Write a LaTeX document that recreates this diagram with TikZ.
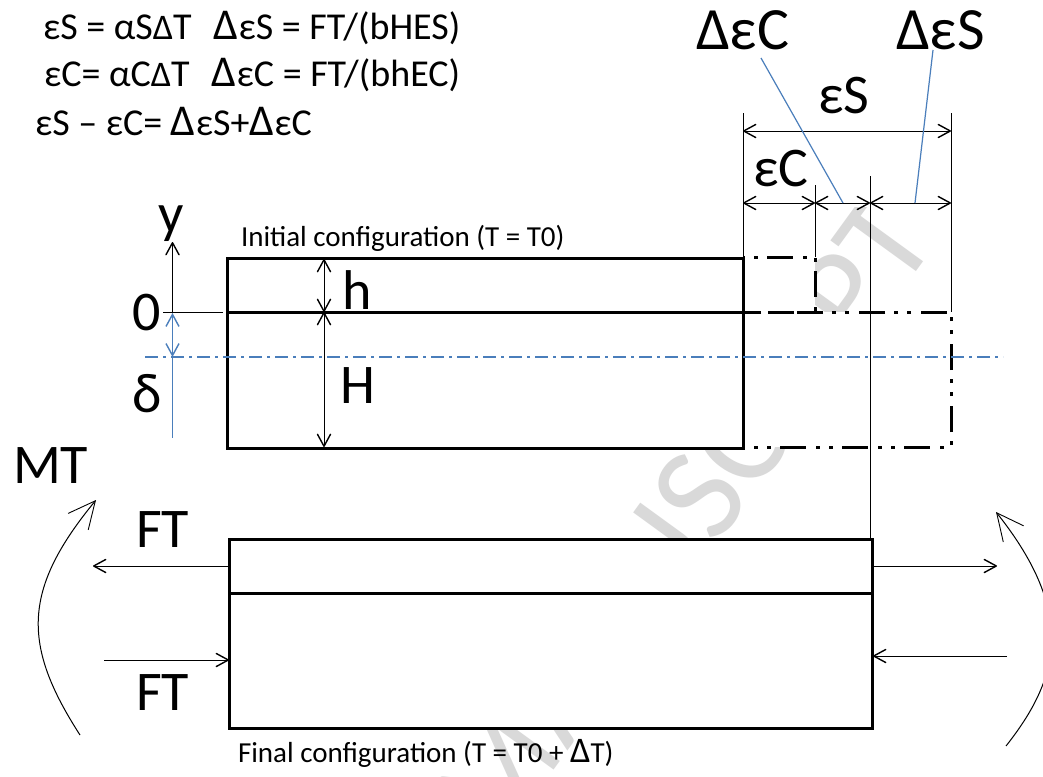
\documentclass[tikz,border=0pt]{standalone}
\usepackage{fontspec}
\setmainfont{Carlito}
\usetikzlibrary{arrows.meta}
\definecolor{leader}{HTML}{4A7EBB}
\definecolor{wmark}{HTML}{D9D9D9}
\newcommand{\fs}[1]{\fontsize{#1}{#1}\selectfont}
\newcommand{\bigD}{{\fs{44}Δ}}
\newcommand{\midD}{{\fs{36}Δ}}
\tikzset{
  x=1pt,y=-1pt,
  barb/.tip={Straight Barb[length=12pt,width=13pt,line width=1.4pt,round]},
  bigbarb/.tip={Straight Barb[length=27pt,width=26pt,line width=0.9pt]},
  lbl/.style={anchor=base west,inner sep=0pt,outer sep=0pt,text=black},
  biglabel/.style={lbl,font=\fs{56}},
  hugelabel/.style={lbl,font=\fs{60}},
  eqn/.style={lbl,font=\fs{38}},
  captext/.style={lbl,font=\fs{29}},
  body/.style={draw=black,line width=3pt,fill=white,line join=miter},
  hair/.style={draw=black,line width=1pt},
  dimline/.style={hair,barb-barb},
  blueline/.style={draw=leader,line width=1.2pt},
  phantomline/.style={draw=black,line width=3pt,dash pattern=on 26pt off 10pt on 4pt off 9pt on 4pt off 9pt},
  axisline/.style={draw=leader,line width=1.2pt,dash pattern=on 13pt off 5pt on 3pt off 5pt},
  cover/.style={fill=white,draw=none}
}
\begin{document}
\begin{tikzpicture}
\useasboundingbox (0,0) rectangle (1043,776);
\clip (0,0) rectangle (1043,776);
\fill[white] (0,0) rectangle (1043,776);
% watermark
\node[anchor=base,inner sep=0pt,text=wmark,font=\fs{136},rotate=54] (wm) at (719,543) {MANUSCRIPT};
\fill[cover] (700,0) rectangle (1043,207);
\fill[cover] (743,257) rectangle (815,312);
\fill[cover] (743,312) rectangle (951,447);
% outlines
\draw[body] (227,258) rectangle (743,448);
\draw[body] (229,539) rectangle (872,728);
\coordinate (a1) at (227,312); \coordinate (a2) at (743,312);
\coordinate (b1) at (229,593); \coordinate (b2) at (872,593);
\draw[body] (a1) -- (a2);
\draw[body] (b1) -- (b2);
% phantom outlines
\draw[phantomline,dash phase=38pt] (743,257) -- (815,257) -- (815,312) -- (743,312);
\draw[phantomline,dash phase=25pt] (743,447) -- (951,447) -- (951,312) -- (743,312);
% extension lines
\draw[hair] (743,113) -- (743,257);
\draw[hair] (951,113) -- (951,312);
\draw[hair] (815,185) -- (815,257);
\draw[hair] (870,176) -- (870,538);
% dimensions
\draw[dimline] (743,131) -- (951,131);
\draw[dimline] (743,203) -- (815,203);
\draw[dimline] (815,203) -- (870,203);
\draw[dimline] (870,203) -- (951,203);
\draw[dimline] (324,259) -- (324,312);
\draw[dimline] (324,312) -- (324,447);
% axes
\draw[hair] (163,312) -- (223,312);
\draw[hair,-{barb}] (172.5,312) -- (172.5,242);
\draw[blueline,{Straight Barb[length=12pt,width=13pt,line width=1.4pt]}-{Straight Barb[length=12pt,width=13pt,line width=1.4pt]}] (172.5,313) -- (172.5,357);
\draw[blueline] (172.5,357) -- (172.5,438);
\draw[axisline] (145,357) -- (1003,357);
% leaders
\draw[blueline] (761,58) -- (843,203);
\draw[blueline] (933,50) -- (915,203);
% forces
\draw[hair,-{barb}] (228,566) -- (93,566);
\draw[hair,-{barb}] (104,660) -- (229,660);
\draw[hair,-{barb}] (873,566) -- (997,566);
\draw[hair,-{barb}] (1007,656) -- (873,656);
% moments
\draw[hair,-{bigbarb}] (80,735) .. controls (22,645) and (22,590) .. (96,500);
\draw[hair,-{bigbarb}] (1006,746) .. controls (1058,680) and (1078,615) .. (996,512);
% labels
\node[eqn] (e1) at (43,40) {εS = αS\midD T\hspace{22pt}\bigD εS = FT/(bHES)};
\node[eqn] (e2) at (44,86) {εC= αC\midD T\hspace{22pt}\bigD εC = FT/(bhEC)};
\node[eqn] (e3) at (35,135) {εS – εC= \bigD εS+\bigD εC};
\node[hugelabel] (dc) at (696,50) {ΔεC};
\node[hugelabel] (ds) at (896,50) {ΔεS};
\node[biglabel] (es) at (818,113) {εS};
\node[biglabel] (ec) at (753,186) {εC};
\node[biglabel] (yl) at (158,232) {y};
\node[biglabel] (zl) at (132,330) {0};
\node[biglabel] (dl) at (132,412) {δ};
\node[biglabel] (hl) at (342,309) {h};
\node[biglabel] (Hl) at (340,403) {H};
\node[biglabel] (mt) at (13,483) {MT};
\node[biglabel] (f1) at (136,547) {FT};
\node[biglabel] (f2) at (136,710) {FT};
\node[captext] (ini) at (241,246) {Initial configuration (T = T0)};
\node[captext] (fin) at (238,762) {Final configuration (T = T0 + {\fs{36}Δ}T)};
\end{tikzpicture}
\end{document}
